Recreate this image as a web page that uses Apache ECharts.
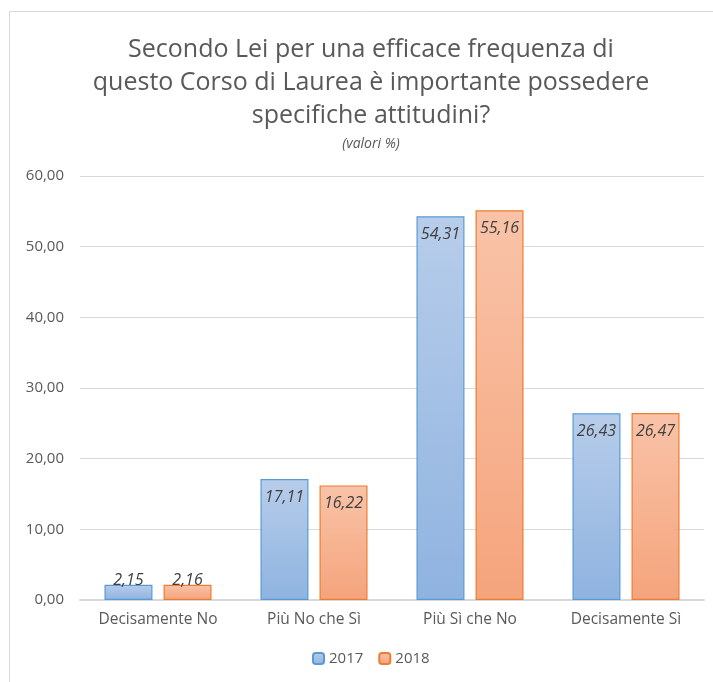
<!DOCTYPE html>
<html>
<head>
<meta charset="utf-8">
<script src="https://cdn.jsdelivr.net/npm/echarts@6/dist/echarts.min.js"></script>
<style>
  html, body { margin: 0; padding: 0; background: #fff; }
  #chart { width: 713px; height: 682px; }
</style>
</head>
<body>
<div id="chart"></div>
<script>
// dati
const categorie = ['Decisamente No', 'Più No che Sì', 'Più Sì che No', 'Decisamente Sì'];
const anni = ['2017', '2018'];
const valori2017 = [2.15, 17.11, 54.31, 26.43];
const valori2018 = [2.16, 16.22, 55.16, 26.47];
const tickY = [0, 10, 20, 30, 40, 50, 60];

const fontBase = '"Open Sans", "Noto Sans", sans-serif';
const fmt = v => v.toFixed(2).replace('.', ',');

// colori stile Excel
const stili = [
    { top: '#b7cdea', bottom: '#8fb3e0', border: '#5b9bd5' },
    { top: '#f9c3a8', bottom: '#f5a47c', border: '#ed7d31' }
];

function serie(nome, valori, s) {
    return {
        name: nome,
        type: 'bar',
        barWidth: 48,
        barGap: '23%',
        data: valori.map(v => ({
            value: v,
            label: { position: v < 5 ? 'top' : 'insideTop', distance: v < 5 ? -4 : 10 }
        })),
        itemStyle: {
            color: new echarts.graphic.LinearGradient(0, 0, 0, 1, [
                { offset: 0, color: s.top },
                { offset: 1, color: s.bottom }
            ]),
            borderColor: s.border,
            borderWidth: 1.2
        },
        label: {
            show: true,
            formatter: p => fmt(p.value),
            color: '#404040',
            fontStyle: 'italic',
            fontSize: 16,
            fontFamily: fontBase
        }
    };
}

const chart = echarts.init(document.getElementById('chart'));
chart.setOption({
    backgroundColor: '#fff',
    animation: false,
    title: [{
        text: 'Secondo Lei per una efficace frequenza di\nquesto Corso di Laurea è importante possedere\nspecifiche attitudini?',
        left: 366,
        textAlign: 'center',
        top: 28,
        textStyle: {
            color: '#595959',
            fontSize: 25,
            fontWeight: 'normal',
            lineHeight: 33,
            fontFamily: fontBase
        }
    }, {
        text: '(valori %)',
        left: 366,
        textAlign: 'center',
        top: 132,
        textStyle: {
            color: '#595959',
            fontSize: 14,
            fontStyle: 'italic',
            fontWeight: 'normal',
            fontFamily: fontBase
        }
    }],
    graphic: [{
        type: 'rect',
        shape: { x: 9.5, y: 11.5, width: 720, height: 700 },
        style: { fill: 'none', stroke: '#d9d9d9', lineWidth: 1 },
        silent: true
    }],
    legend: {
        data: anni,
        bottom: 11,
        left: 307,
        itemWidth: 11,
        itemHeight: 11,
        itemGap: 15,
        textStyle: { color: '#595959', fontSize: 15, fontFamily: fontBase }
    },
    grid: { left: 80, right: 9, top: 176, bottom: 82, containLabel: false },
    xAxis: {
        type: 'category',
        data: categorie,
        axisLine: { lineStyle: { color: '#d9d9d9', width: 2 } },
        axisTick: { show: false },
        axisLabel: { color: '#595959', fontSize: 15.5, margin: 12, fontFamily: fontBase }
    },
    yAxis: {
        type: 'value',
        min: tickY[0],
        max: tickY[tickY.length - 1],
        interval: 10,
        axisLine: { show: false },
        axisTick: { show: false },
        axisLabel: { color: '#595959', fontSize: 15, margin: 16, formatter: v => fmt(v), fontFamily: fontBase },
        splitLine: { lineStyle: { color: '#d9d9d9', width: 1 } }
    },
    series: [
        serie(anni[0], valori2017, stili[0]),
        serie(anni[1], valori2018, stili[1])
    ]
});
</script>
</body>
</html>
